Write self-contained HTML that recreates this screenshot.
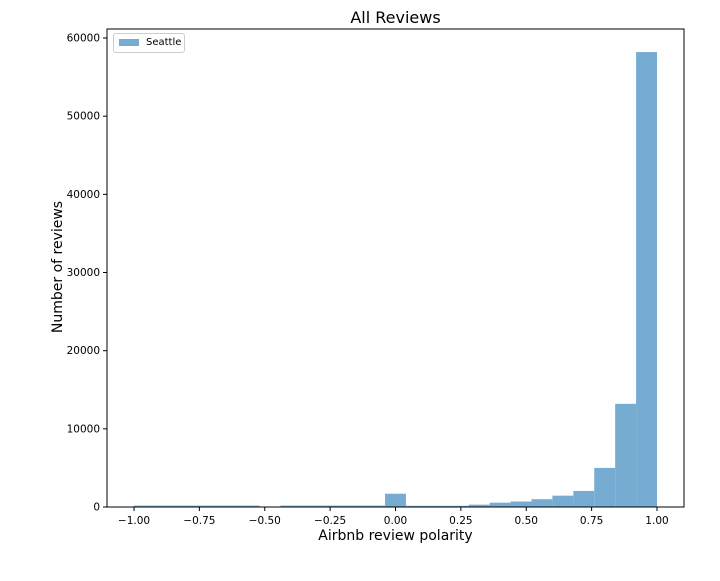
<!DOCTYPE html>
<html><head><meta charset="utf-8"><style>
body{margin:0;background:#fff;font-family:"Liberation Sans","DejaVu Sans",sans-serif}
svg text{font-family:"DejaVu Sans","Liberation Sans",sans-serif}
</style></head><body>
<svg id="c" width="720" height="576" xmlns="http://www.w3.org/2000/svg"></svg>
<script>
const binEdgesStart = -1.0;
const binWidth = 0.08;
const counts = [180,180,180,180,180,180,0,180,180,180,180,180,1700,150,150,150,300,550,700,1000,1450,2050,5000,13200,58200];
const xTicks = [-1.0,-0.75,-0.5,-0.25,0.0,0.25,0.5,0.75,1.0];
const xTickLabels = ["\u22121.00","\u22120.75","\u22120.50","\u22120.25","0.00","0.25","0.50","0.75","1.00"];
const yTicks = [0,10000,20000,30000,40000,50000,60000];

const svg=document.getElementById('c');
const NS='http://www.w3.org/2000/svg';
const L=107,R=684,T=29,B=507;
const x=v=>134+(v+1)*261.5;
const y=v=>507-v*(469/60000);
function el(tag,attrs,parent){const e=document.createElementNS(NS,tag);for(const k in attrs)e.setAttribute(k,attrs[k]);(parent||svg).appendChild(e);return e;}

const bars=el('g',{});


counts.forEach((c,i)=>{
  const x0=x(binEdgesStart+i*binWidth), x1=x(binEdgesStart+(i+1)*binWidth);
  const r=el('rect',{x:x0,y:y(c),width:x1-x0,height:y(0)-y(c),fill:'#77acd2'},bars);
  
  
});
const frame=el('rect',{x:L,y:T,width:R-L,height:B-T,fill:'none',stroke:'#000','stroke-width':1});



xTicks.forEach((t,i)=>{
  el('line',{x1:x(t),x2:x(t),y1:B,y2:B+4,stroke:'#000'});
  const tx=el('text',{x:x(t),y:B+17,'font-size':10.5,'text-anchor':'middle'});
  tx.textContent=xTickLabels[i];
  
  
});
yTicks.forEach(t=>{
  el('line',{x1:L-4,x2:L,y1:y(t),y2:y(t),stroke:'#000'});
  const tx=el('text',{x:L-7,y:y(t)+3.5,'font-size':10.5,'text-anchor':'end'});
  tx.textContent=String(t);
  
  
});
</script>
<div style="position:absolute;left:0;top:0;width:720px;height:576px;pointer-events:none">
<div style="position:absolute;left:107px;width:577px;top:8px;text-align:center;font-size:16px;font-family:'DejaVu Sans',sans-serif">All Reviews</div>
<div style="position:absolute;left:107px;width:577px;top:528px;text-align:center;font-size:14px;font-family:'DejaVu Sans',sans-serif">Airbnb review polarity</div>
<div style="position:absolute;left:-42px;top:259px;width:200px;text-align:center;font-size:14px;transform:rotate(-90deg);font-family:'DejaVu Sans',sans-serif">Number of reviews</div>
<div style="position:absolute;left:113px;top:33px;width:70px;height:18px;border:1px solid #ccc;border-radius:3px;background:#fff;font-size:10px;font-family:'DejaVu Sans',sans-serif">
<span style="position:absolute;left:5px;top:5px;width:20px;height:7px;background:#77acd2"></span>
<span style="position:absolute;left:32px;top:3px">Seattle</span>
</div>
</div>
</body></html>
